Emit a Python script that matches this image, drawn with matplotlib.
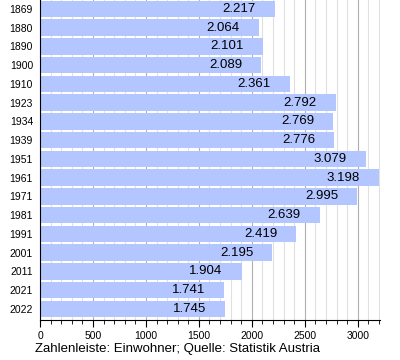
import numpy as np
import matplotlib.pyplot as plt
from matplotlib.ticker import MultipleLocator

plt.rcParams['font.family'] = ['Liberation Sans', 'DejaVu Sans']

# population per census year
years = ['1869', '1880', '1890', '1900', '1910', '1923', '1934', '1939', '1951',
         '1961', '1971', '1981', '1991', '2001', '2011', '2021', '2022']
population = [2217, 2064, 2101, 2089, 2361, 2792, 2769, 2776, 3079,
              3198, 2995, 2639, 2419, 2195, 1904, 1741, 1745]


def fmt(v):
    # thousands separator as dot
    return f'{v:,}'.replace(',', '.')


fig = plt.figure(figsize=(4, 3.6), dpi=100)
ax = fig.add_axes([0.1, 0.111, 0.85, 0.889])

pos = np.arange(len(years))
ax.barh(pos, population, height=0.88, color='#b3c6ff', zorder=2)

for p, v in zip(pos, population):
    ax.text(v - 180, p, fmt(v), ha='right', va='center', fontsize=9.5, zorder=3)

ax.set_xlim(0, 3210)
ax.set_ylim(16.59, -0.48)
ax.set_yticks(pos)
ax.set_yticklabels(years, fontsize=7.5)
ax.tick_params(axis='y', length=0, pad=5)

ax.xaxis.set_major_locator(MultipleLocator(500))
ax.xaxis.set_minor_locator(MultipleLocator(100))
ax.tick_params(axis='x', which='major', length=5, labelsize=7.5, pad=3)
ax.tick_params(axis='x', which='minor', length=3)
ax.grid(axis='x', which='major', color='#b0b0b0', linewidth=0.8, zorder=0)
ax.grid(axis='x', which='minor', color='#e0e0e0', linewidth=0.8, zorder=0)
ax.set_axisbelow(True)

for s in ['top', 'right']:
    ax.spines[s].set_visible(False)

fig.text(0.088, 0.022, 'Zahlenleiste: Einwohner; Quelle: Statistik Austria', fontsize=9.5)

fig.savefig('out.png')
